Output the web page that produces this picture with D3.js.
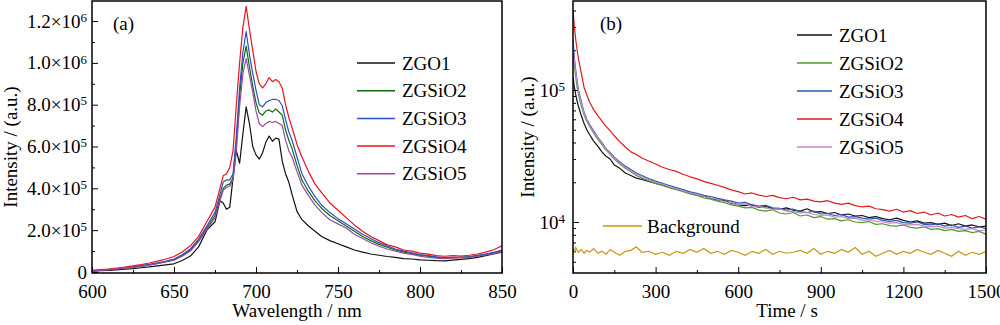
<!DOCTYPE html>
<html>
<head>
<meta charset="utf-8">
<script src="https://cdn.jsdelivr.net/npm/d3@7"></script>
<style>
body { margin: 0; background: #fff; }
svg text { font-family: "Liberation Serif", "Times New Roman", serif; fill: #000; }
</style>
</head>
<body>
<svg id="chart" width="1000" height="325"></svg>
<script>
// ---- data: panel (a), emission spectra, intensity in units of 1e4 ----
const wavelengths = [600,605,610,615,620,625,630,635,640,645,650,655,660,665,670,675,
  678,680,682,684,686,688,690,692,694,696,698,700,702,704,706,708,710,712,714,716,718,720,722,
  725,728,732,736,740,
  745,750,755,760,765,770,775,780,785,790,795,800,805,810,815,820,825,830,835,840,845,850];

const specZGO1 = [0.4,0.6,0.8,1.0,1.3,1.6,2.0,2.4,2.9,3.4,3.9,5.5,7.6,12,20,24,
  34,33,30,31,45,58,52,66,79,71,60,56,54,57,62,65,62.5,64,63.5,53,47,43,37,
  29,25,22,19.5,17,
  15,13.5,12,10.5,9.5,8.6,8,7.4,7,6.4,6.2,5.8,5.6,5.4,5.3,5.7,6,6.4,7,7.8,8.6,9.5];
const specZGSiO2 = [0.5,0.8,1.1,1.4,1.8,2.3,2.8,3.4,4.1,4.9,5.8,7.8,10.5,15,21,27,
  35,40,41.5,42,45,62,84,100,108,98,89,81,76,75,77,77.5,76.5,78,76.5,75,68,63,59,
  51,44,38.5,34,30.5,
  27,24.5,22,19.5,17,15,13.2,11.8,10.5,9.5,8.8,8,7.5,7,6.8,6.9,6.9,7.2,7.7,8.4,9.1,10.2];
const specZGSiO3 = [0.6,0.9,1.2,1.5,1.9,2.4,3.0,3.6,4.4,5.2,6.2,8.2,11,15.7,22,28.5,
  37,43,44,44,47,65,88,105,115,104,95,87,80,79,81,82,82.5,82.5,82,79.5,73,67,63,
  55,47,41,36,32,
  28.4,25.5,23,20.5,18,16,14,12.5,11,10,9.2,8.3,7.8,7.2,6.9,7,7,7.4,7.9,8.6,9.4,10.5];
const specZGSiO4 = [0.8,1.1,1.4,1.8,2.3,2.9,3.5,4.3,5.2,6.2,7.4,9.5,12.5,17,24,31,
  40,46,47,50,58,80,100,117,127,116,106,96,90,88,90,93,91,92,91,88,80,74,69,
  61,55,48,42,38,
  33,29.5,26,22.5,19.5,17,15,13,12,10.5,10,9,8.5,7.8,7.5,7.8,7.6,8,8.6,9.5,10.6,12.5];
const specZGSiO5 = [0.5,0.8,1.1,1.4,1.8,2.2,2.7,3.3,4.0,4.8,5.6,7.5,10,14.5,20.5,26,
  34,39,40.5,41,44,58,79,95,102,94,86,77,71,69.5,71,72,71.5,72,71,70,63,58,55,
  48,41.5,36.5,32,28.5,
  25,23,21,18,16,14,12.3,11,10,9,8.4,7.6,7,6.6,6.4,6.6,6.8,7,7.5,8.1,8.8,9.6];

// ---- data: panel (b), afterglow decay, intensity in units of 1e3 ----
const times = [0,5,10,15,20,30,40,50,60,75,90,105,120,135,150,170,190,210,230,250,
  275,300,325,350,375,400,425,450,475,500,525,550,575,600,625,650,675,700,725,750,
  775,800,825,850,875,900,925,950,975,1000,1025,1050,1075,1100,1125,1150,1175,1200,1225,1250,
  1275,1300,1325,1350,1375,1400,1425,1450,1475,1500];

const decayZGO1 = [125,105,92,82,75,64,56,50,46,41,37.5,34,31.5,30,27,25.5,23.5,22.5,21.5,21,
  20.3,19.6,19.0,18.3,17.7,17.4,16.6,16.0,15.7,15.1,14.7,14.5,13.9,13.5,13.3,13.5,12.9,13.1,12.7,12.5,
  12.8,12.3,12.1,12.6,11.9,12.0,11.6,11.8,11.3,11.5,11.1,11.2,10.8,11.0,10.6,10.4,10.7,10.3,10.0,10.2,
  9.8,9.9,9.6,9.8,9.4,9.7,9.3,9.5,9.2,9.3];
const decayZGSiO2 = [190,150,125,105,92,76,65,58,53,47,42.5,38.5,35,32.5,30,27.5,25.5,24,22.5,21.5,
  20.5,19.6,19.0,18.2,17.6,17.0,16.3,15.9,15.2,14.9,14.4,14.0,13.5,13.2,12.8,12.9,12.3,12.1,12.4,11.7,
  11.5,11.8,11.1,11.3,10.8,11.0,10.5,10.6,10.2,10.4,10.0,9.9,10.1,9.6,9.7,9.4,9.3,9.5,9.1,9.0,
  9.2,8.8,8.9,8.6,8.8,8.5,8.6,8.3,8.5,8.1];
const decayZGSiO3 = [240,175,140,117,100,82,68,60,55,49,44,40,36,33.5,31,28.5,26.5,25,23.5,22.5,
  21.3,20.4,19.6,18.9,18.2,17.6,16.9,16.5,15.9,15.6,15.1,14.7,14.4,13.9,14.1,13.5,13.2,13.4,12.8,12.7,
  12.3,12.5,12.0,11.8,12.1,11.5,11.6,11.2,11.4,10.9,11.0,10.7,10.5,10.7,10.3,10.1,10.3,9.9,9.8,10.0,
  9.6,9.5,9.7,9.3,9.5,9.1,9.3,9.0,9.2,8.9];
const decayZGSiO4 = [400,300,240,200,172,135,105,92,81,71,64,58,53,49,45,40.5,37,34,32.5,30.5,
  29,27.5,26,25,24.2,23,22,21.2,20.3,19.6,19,18.3,17.5,17,16.3,16.6,16.0,15.6,15.9,15.3,
  15.0,15.4,14.7,14.9,14.4,14.2,14.5,13.9,13.6,13.9,13.3,13.0,13.2,12.6,12.4,12.1,12.5,11.9,12.2,11.6,
  11.9,11.3,11.7,11.1,11.4,10.9,11.2,10.6,11.0,10.5];
const decayZGSiO5 = [220,165,135,113,97,80,67,59,54,48,43.5,39.5,35.5,33,30.5,28,26,24.5,23,22,
  21,20.0,19.4,18.5,17.9,17.3,16.6,16.2,15.6,15.2,14.8,14.3,14.0,13.5,13.7,13.1,13.0,12.8,12.5,12.6,
  12.1,12.0,11.7,11.8,11.4,11.2,11.3,10.9,11.0,10.6,10.7,10.3,10.4,10.1,10.0,9.8,9.9,9.6,9.5,9.6,
  9.3,9.2,9.3,9.0,9.1,8.9,8.8,8.9,8.6,8.7];
const decayBackground = [6.3,6.0,6.4,6.1,5.9,6.2,5.8,6.1,5.9,6.3,5.8,6.0,5.7,6.2,5.9,5.6,6.0,6.1,6.5,5.9,
  6.0,5.7,5.9,5.6,6.0,5.8,6.2,5.9,6.3,5.8,6.0,5.7,6.1,5.9,5.6,6.0,5.8,6.2,5.7,6.0,
  5.8,5.9,6.1,5.8,6.3,5.7,6.0,5.8,6.2,5.9,6.4,5.7,6.0,5.5,5.8,6.1,5.7,6.0,5.8,6.2,
  5.9,5.7,6.1,5.8,5.5,6.0,5.6,5.9,5.7,6.0];

const seriesNames = ["ZGO1", "ZGSiO2", "ZGSiO3", "ZGSiO4", "ZGSiO5"];
const spectra = [specZGO1, specZGSiO2, specZGSiO3, specZGSiO4, specZGSiO5];
const decays = [decayZGO1, decayZGSiO2, decayZGSiO3, decayZGSiO4, decayZGSiO5];

const colorsA = ["#111111", "#0f6a0f", "#2652c2", "#e8141c", "#9a4aa0"];
const colorsB = ["#111111", "#4f9b2c", "#2b55b8", "#e31a1a", "#c488c8"];
const bgColor = "#c9960f";

const wlTicks = [600, 650, 700, 750, 800, 850];
const intensityTicks = [0, 2e5, 4e5, 6e5, 8e5, 1e6, 1.2e6];
const timeTicks = [0, 300, 600, 900, 1200, 1500];
const logTicks = [1e4, 1e5];

const svg = d3.select("#chart");
const FS = 19;

function styleAxis(g) {
    g.select(".domain").remove();
    g.selectAll(".tick line").attr("stroke", "#000").attr("stroke-width", 1);
    g.selectAll(".tick text").attr("font-size", FS + "px")
        .attr("font-family", "Liberation Serif, Times New Roman, serif").attr("fill", "#000");
}

function frame(x0, x1, y0, y1) {
    svg.append("rect")
        .attr("x", x0).attr("y", y0)
        .attr("width", x1 - x0).attr("height", y1 - y0)
        .attr("fill", "none").attr("stroke", "#000").attr("stroke-width", 1.5);
}

function legend(x, y0, step, names, colors, lineLen) {
    names.forEach((name, i) => {
        const y = y0 + i * step;
        svg.append("line")
            .attr("x1", x).attr("x2", x + lineLen)
            .attr("y1", y).attr("y2", y)
            .attr("stroke", colors[i]).attr("stroke-width", 1.5);
        svg.append("text")
            .attr("x", x + lineLen + 7).attr("y", y).attr("dy", "0.35em")
            .attr("font-size", FS + "px").text(name);
    });
}

// ================= Panel (a) =================
const xA = d3.scaleLinear().domain([600, 850]).range([92, 502]);
const yA = d3.scaleLinear().domain([-5000, 1296000]).range([273, 1]);

svg.append("g").attr("transform", "translate(0,273)")
    .call(d3.axisBottom(xA).tickValues(wlTicks).tickSize(-6).tickPadding(11.5).tickFormat(d3.format("d")))
    .call(styleAxis);
svg.append("g").attr("transform", "translate(0,273)")
    .call(d3.axisBottom(xA).tickValues(wlTicks.slice(1).map((d, i) => (d + wlTicks[i]) / 2)).tickSize(-3).tickFormat(""))
    .call(styleAxis);

svg.append("g").attr("transform", "translate(92,0)")
    .call(d3.axisLeft(yA).tickValues(intensityTicks).tickSize(-6).tickPadding(5))
    .call(styleAxis)
    .selectAll(".tick text").each(function (d) {
        const t = d3.select(this);
        t.text(null);
        if (d === 0) { t.text("0"); return; }
        const e = Math.floor(Math.log10(d) + 1e-9);
        const m = (d / Math.pow(10, e)).toFixed(1);
        t.append("tspan").text(m + "×10");
        t.append("tspan").attr("dy", "-0.45em").attr("font-size", "13px").text(e);
    });
svg.append("g").attr("transform", "translate(92,0)")
    .call(d3.axisLeft(yA).tickValues(intensityTicks.slice(1).map((d, i) => (d + intensityTicks[i]) / 2)).tickSize(-3).tickFormat(""))
    .call(styleAxis);

const lineA = d3.line()
    .x((d, i) => xA(wavelengths[i]))
    .y(d => yA(d * 1e4));

svg.append("clipPath").attr("id", "clipA").append("rect")
    .attr("x", 92).attr("y", 1).attr("width", 410).attr("height", 272);

svg.append("g").attr("clip-path", "url(#clipA)")
    .selectAll("path").data(spectra).join("path")
    .attr("d", lineA)
    .attr("fill", "none")
    .attr("stroke", (d, i) => colorsA[i])
    .attr("stroke-width", 1.2)
    .attr("stroke-linejoin", "round");

frame(92, 502, 1, 273);
legend(357, 63, 27.7, seriesNames, colorsA, 38);

svg.append("text").attr("x", 113).attr("y", 30).attr("font-size", FS + "px").text("(a)");
svg.append("text").attr("x", 297).attr("y", 317).attr("text-anchor", "middle")
    .attr("font-size", FS + "px").text("Wavelength / nm");
svg.append("text").attr("transform", "translate(17,147) rotate(-90)")
    .attr("text-anchor", "middle").attr("font-size", FS + "px").text("Intensity / (a.u.)");

// ================= Panel (b) =================
const xB = d3.scaleLinear().domain([0, 1500]).range([573, 986]);
const yB = d3.scaleLog().domain([4110, 472000]).range([273, 1]);

svg.append("g").attr("transform", "translate(0,273)")
    .call(d3.axisBottom(xB).tickValues(timeTicks).tickSize(-6).tickPadding(11.5).tickFormat(d3.format("d")))
    .call(styleAxis);
svg.append("g").attr("transform", "translate(0,273)")
    .call(d3.axisBottom(xB).tickValues(timeTicks.slice(1).map((d, i) => (d + timeTicks[i]) / 2)).tickSize(-3).tickFormat(""))
    .call(styleAxis);

svg.append("g").attr("transform", "translate(573,0)")
    .call(d3.axisLeft(yB).tickValues(logTicks).tickSize(-6).tickPadding(8))
    .call(styleAxis)
    .selectAll(".tick text").each(function (d) {
        const t = d3.select(this);
        t.text(null);
        t.append("tspan").text("10");
        t.append("tspan").attr("dy", "-0.45em").attr("font-size", "13px").text(Math.round(Math.log10(d)));
    });
svg.append("g").attr("transform", "translate(573,0)")
    .call(d3.axisLeft(yB).tickValues(yB.ticks().filter(v => !logTicks.includes(v))).tickSize(-3).tickFormat(""))
    .call(styleAxis);

const lineB = d3.line()
    .x((d, i) => xB(times[i]))
    .y(d => yB(d * 1e3));

svg.append("clipPath").attr("id", "clipB").append("rect")
    .attr("x", 573).attr("y", 1).attr("width", 413).attr("height", 272);

const gB = svg.append("g").attr("clip-path", "url(#clipB)");
gB.append("path").datum(decayBackground)
    .attr("d", lineB).attr("fill", "none").attr("stroke", bgColor).attr("stroke-width", 1.2);
gB.selectAll(".decay").data(decays).join("path")
    .attr("class", "decay")
    .attr("d", lineB)
    .attr("fill", "none")
    .attr("stroke", (d, i) => colorsB[i])
    .attr("stroke-width", 1.2)
    .attr("stroke-linejoin", "round");

frame(573, 986, 1, 273);
legend(797, 35, 28, seriesNames, colorsB, 35);

svg.append("line").attr("x1", 603).attr("x2", 642).attr("y1", 226).attr("y2", 226)
    .attr("stroke", bgColor).attr("stroke-width", 1.5);
svg.append("text").attr("x", 647).attr("y", 226).attr("dy", "0.35em")
    .attr("font-size", FS + "px").text("Background");

svg.append("text").attr("x", 600).attr("y", 30).attr("font-size", FS + "px").text("(b)");
svg.append("text").attr("x", 787).attr("y", 317).attr("text-anchor", "middle")
    .attr("font-size", FS + "px").text("Time / s");
svg.append("text").attr("transform", "translate(534,137) rotate(-90)")
    .attr("text-anchor", "middle").attr("font-size", FS + "px").text("Intensity / (a.u.)");
</script>
</body>
</html>
